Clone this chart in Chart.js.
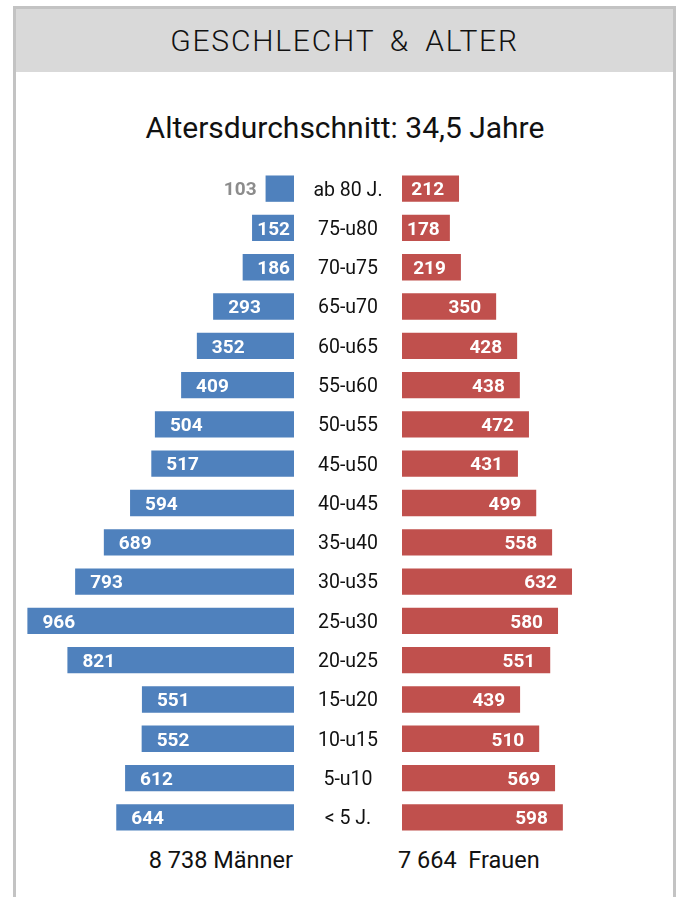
<!DOCTYPE html>
<html>
<head>
<meta charset="utf-8">
<script src="https://cdn.jsdelivr.net/npm/chart.js@4"></script>
<style>
  body { margin: 0; background: #fff; font-family: Roboto, "DejaVu Sans", sans-serif; color: #111; }
  #frame { position: absolute; left: 13px; top: 6px; width: 657px; height: 900px; border: 3px solid #c3c3c3; }
  #header { position: absolute; left: 0; top: 0; width: 657px; height: 63px; background: #d9d9d9;
            font-size: 30px; font-weight: 300; letter-spacing: 1.8px; word-spacing: 6px; text-align: center; line-height: 63px; }
  #subtitle { position: absolute; left: 0; top: 110px; width: 690px; text-align: center; font-size: 30px; }
  .total { position: absolute; top: 846px; font-size: 23.5px; }
  #wrapL { position: absolute; left: 18px; top: 169px; width: 276px; height: 668px; }
  #wrapR { position: absolute; left: 294px; top: 169px; width: 377px; height: 668px; }
</style>
</head>
<body>
<div id="frame"><div id="header">GESCHLECHT &amp; ALTER</div></div>
<div id="subtitle">Altersdurchschnitt: 34,5 Jahre</div>
<div id="wrapL"><canvas id="male"></canvas></div>
<div id="wrapR"><canvas id="female"></canvas></div>
<div class="total" id="totalM" style="right:387px"></div>
<div class="total" id="totalF" style="left:398px"></div>
<script>
var ageGroups = ['ab 80 J.', '75-u80', '70-u75', '65-u70', '60-u65', '55-u60', '50-u55', '45-u50', '40-u45',
                 '35-u40', '30-u35', '25-u30', '20-u25', '15-u20', '10-u15', '5-u10', '< 5 J.'];
var maenner = [103, 152, 186, 293, 352, 409, 504, 517, 594, 689, 793, 966, 821, 551, 552, 612, 644];
var frauen  = [212, 178, 219, 350, 428, 438, 472, 431, 499, 558, 632, 580, 551, 439, 510, 569, 598];

function sum(arr) { return arr.reduce(function(a, b) { return a + b; }, 0); }
function fmt(n) { return String(n).replace(/\B(?=(\d{3})+(?!\d))/g, ' '); }

document.getElementById('totalM').textContent = fmt(sum(maenner)) + ' Männer';
document.getElementById('totalF').innerHTML = fmt(sum(frauen)) + '&nbsp; Frauen';

// Zahlen in die Balken schreiben
var barLabels = {
    id: 'barLabels',
    afterDatasetsDraw: function(chart) {
        var ctx = chart.ctx;
        var left = chart.options.plugins.barLabels.side === 'left';
        var meta = chart.getDatasetMeta(0);
        var values = chart.data.datasets[0].data;
        ctx.save();
        ctx.font = 'bold 19px Roboto, "DejaVu Sans", sans-serif';
        ctx.textBaseline = 'middle';
        meta.data.forEach(function(bar, i) {
            var txt = String(values[i]);
            var w = ctx.measureText(txt).width;
            var len = Math.abs(bar.base - bar.x);
            var y = bar.y + 2;
            ctx.textAlign = 'left';
            if (len < w + 6) {
                ctx.fillStyle = '#8c8c8c';
                if (left) ctx.fillText(txt, bar.x - 9 - w, y);
                else ctx.fillText(txt, bar.x + 9, y);
                return;
            }
            ctx.fillStyle = '#fff';
            if (left) {
                var sx = bar.x + 15;
                if (sx + w > bar.base - 4) sx = bar.base - 4 - w;
                ctx.fillText(txt, sx, y);
            } else {
                var ex = bar.x - 15;
                if (ex - w < bar.base + 5) ex = bar.base + 5 + w;
                ctx.fillText(txt, ex - w, y);
            }
        });
        ctx.restore();
    }
};

// Altersgruppen in die Mitte zwischen die Balken
var groupLabels = {
    id: 'groupLabels',
    afterDraw: function(chart) {
        var ctx = chart.ctx;
        var yScale = chart.scales.y;
        ctx.save();
        ctx.font = '19.5px Roboto, "DejaVu Sans", sans-serif';
        ctx.fillStyle = '#111';
        ctx.textAlign = 'center';
        ctx.textBaseline = 'middle';
        chart.data.labels.forEach(function(lbl, i) {
            ctx.fillText(lbl, chart.chartArea.left - 54, yScale.getPixelForValue(i) + 2);
        });
        ctx.restore();
    }
};

new Chart(document.getElementById('male'), {
    type: 'bar',
    data: {
        labels: ageGroups,
        datasets: [{ data: maenner, backgroundColor: '#4f81bd', barPercentage: 0.67, categoryPercentage: 1 }]
    },
    options: {
        indexAxis: 'y',
        responsive: true,
        maintainAspectRatio: false,
        animation: false,
        layout: { padding: 0 },
        plugins: { legend: { display: false }, tooltip: { enabled: false }, barLabels: { side: 'left' } },
        scales: {
            x: { reverse: true, min: 0, max: 1000, display: false },
            y: { display: false }
        }
    },
    plugins: [barLabels]
});

new Chart(document.getElementById('female'), {
    type: 'bar',
    data: {
        labels: ageGroups,
        datasets: [{ data: frauen, backgroundColor: '#c0504d', barPercentage: 0.67, categoryPercentage: 1 }]
    },
    options: {
        indexAxis: 'y',
        responsive: true,
        maintainAspectRatio: false,
        animation: false,
        layout: { padding: { left: 108 } },
        plugins: { legend: { display: false }, tooltip: { enabled: false }, barLabels: { side: 'right' } },
        scales: {
            x: { min: 0, max: 1000, display: false },
            y: { display: false }
        }
    },
    plugins: [barLabels, groupLabels]
});
</script>
</body>
</html>
